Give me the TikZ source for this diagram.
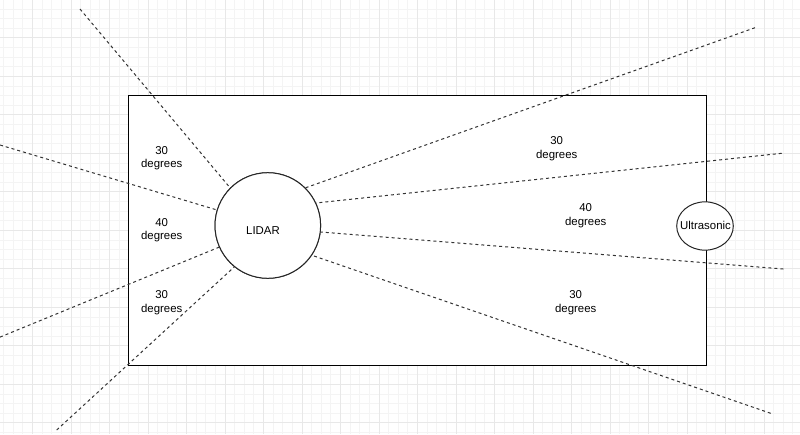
\documentclass[tikz,border=0pt]{standalone}
\usepackage{fontspec}
\setmainfont{Liberation Sans}
\usetikzlibrary{shapes.geometric}
\definecolor{gridminor}{HTML}{F4F4F4}
\definecolor{gridmajor}{HTML}{E8E8E8}
\tikzset{
  minorline/.style={draw=gridminor, line width=0.8pt},
  majorline/.style={draw=gridmajor, line width=1pt},
  box/.style={draw=black, fill=white, line width=1pt},
  sensor/.style={draw=black!85, fill=white, line width=1pt, inner sep=0pt},
  ray/.style={draw=black!80, line width=1pt, dash pattern=on 3pt off 3pt},
  lbl/.style={font=\fontsize{11.4}{13.7}\selectfont, align=center, inner sep=0pt, text=black}
}
\begin{document}
\begin{tikzpicture}[x=1pt, y=-1pt]
\useasboundingbox[fill=white] (0,0) rectangle (800,434);
% grid
\foreach \i in {0,...,82} {\pgfmathsetmacro\xx{3.625+9.625*\i}\draw[minorline] (\xx,0) -- (\xx,434);}
\foreach \i in {0,...,44} {\pgfmathsetmacro\yy{8.925+9.625*\i}\draw[minorline] (0,\yy) -- (800,\yy);}
\foreach \i in {0,...,19} {\pgfmathsetmacro\xx{32.5+38.5*\i}\draw[majorline] (\xx,0) -- (\xx,434);}
\foreach \i in {0,...,10} {\pgfmathsetmacro\yy{37.8+38.5*\i}\draw[majorline] (0,\yy) -- (800,\yy);}
% frame
\path[box] (128.3,95.7) rectangle (706,365);
% sensors (placed first for anchors, drawn on top later)
\node[sensor, circle, minimum size=105.6pt] (lidar) at (267.8,225.5) {};
% free ends
\coordinate (e1) at (80,9);
\coordinate (e2) at (0,145);
\coordinate (e3) at (0,337.1);
\coordinate (e4) at (56.7,430);
\coordinate (e5) at (755,27.7);
\coordinate (e6) at (781.7,153.3);
\coordinate (e7) at (783.3,269);
\coordinate (e8) at (770.7,413.3);
% rays
\draw[ray] (e1) -- (lidar.135);
\draw[ray] (e2) -- (lidar.163);
\draw[ray] (e3) -- (lidar.204);
\draw[ray] (e4) -- (lidar.231);
\draw[ray] (e5) -- (lidar.45);
\draw[ray] (e6) -- (lidar.25);
\draw[ray] (e7) -- (lidar.353);
\draw[ray] (e8) -- (lidar.326.5);
% redraw sensors on top
\node[sensor, circle, minimum size=105.6pt] at (267.8,225.5) {};
\node[sensor, ellipse, minimum width=56.6pt, minimum height=48.3pt] (ultra) at (705,226) {};
\node[lbl] (ultratext) at (705.5,225.5) {Ultrasonic};
\node[lbl] (lidartext) at (263,231) {LIDAR};
% angle labels
\node[lbl] (a1) at (161.7,158.3) {30\\degrees};
\node[lbl] (a2) at (161.7,230.3) {40\\degrees};
\node[lbl] (a3) at (161.7,302.7) {30\\degrees};
\node[lbl] (a4) at (556.7,148.7) {30\\degrees};
\node[lbl] (a5) at (585.7,216) {40\\degrees};
\node[lbl] (a6) at (575.7,302.7) {30\\degrees};
\end{tikzpicture}
\end{document}
